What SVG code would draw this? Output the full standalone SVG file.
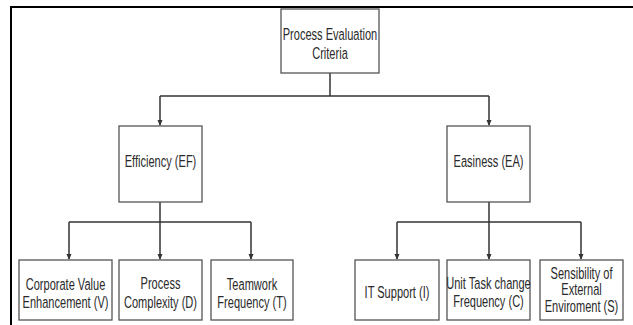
<svg xmlns="http://www.w3.org/2000/svg" width="633" height="325" viewBox="0 0 633 325">
<defs>
<marker id="arr" viewBox="0 0 6 6" refX="5" refY="3" markerWidth="6" markerHeight="6" orient="auto" markerUnits="userSpaceOnUse">
<path d="M0,0.5 L6,3 L0,5.5 Z" fill="#333"/>
</marker>
<style>
.box{fill:#fff;stroke:#555;stroke-width:1.3}
.t{font-family:"Liberation Sans",Arial,sans-serif;font-size:17px;fill:#2a2a2a;text-anchor:middle}
.s{font-size:16px}
.c{fill:none;stroke:#333;stroke-width:1.5}
.frame{fill:none;stroke:#000;stroke-width:2}
</style>
</defs>
<rect width="633" height="325" fill="#fff"/>
<path class="frame" d="M11,325 V7 H633"/>
<g id="connectors">
<path class="c" d="M330,73 V96"/>
<path class="c" d="M160,96 H489"/>
<path class="c" d="M160,96 V125" marker-end="url(#arr)"/>
<path class="c" d="M489,96 V125" marker-end="url(#arr)"/>
<path class="c" d="M160,202 V222"/>
<path class="c" d="M69,222 H251"/>
<path class="c" d="M69,222 V259" marker-end="url(#arr)"/>
<path class="c" d="M160,222 V259" marker-end="url(#arr)"/>
<path class="c" d="M251,222 V259" marker-end="url(#arr)"/>
<path class="c" d="M489,202 V222"/>
<path class="c" d="M397,222 H581"/>
<path class="c" d="M397,222 V259" marker-end="url(#arr)"/>
<path class="c" d="M489,222 V259" marker-end="url(#arr)"/>
<path class="c" d="M581,222 V259" marker-end="url(#arr)"/>
</g>
<g id="root">
<rect class="box" x="281" y="9" width="98" height="64"/>
<text class="t" transform="translate(330,0) scale(0.65,1)" x="0" y="40">Process Evaluation</text>
<text class="t" transform="translate(330,0) scale(0.65,1)" x="0" y="59">Criteria</text>
</g>
<g id="efficiency">
<rect class="box" x="119" y="126" width="83" height="76"/>
<text class="t" transform="translate(160.5,0) scale(0.65,1)" x="0" y="167">Efficiency (EF)</text>
</g>
<g id="easiness">
<rect class="box" x="447" y="126" width="83" height="76"/>
<text class="t" transform="translate(488.5,0) scale(0.65,1)" x="0" y="167">Easiness (EA)</text>
</g>
<g id="corporate-value">
<rect class="box" x="19" y="260" width="93" height="60"/>
<text class="t" transform="translate(65.5,0) scale(0.65,1)" x="0" y="290">Corporate Value</text>
<text class="t" transform="translate(65.5,0) scale(0.65,1)" x="0" y="308">Enhancement (V)</text>
</g>
<g id="process-complexity">
<rect class="box" x="119" y="260" width="83" height="60"/>
<text class="t" transform="translate(160.5,0) scale(0.65,1)" x="0" y="289">Process</text>
<text class="t" transform="translate(160.5,0) scale(0.65,1)" x="0" y="308">Complexity (D)</text>
</g>
<g id="teamwork-frequency">
<rect class="box" x="211" y="260" width="82" height="60"/>
<text class="t" transform="translate(252,0) scale(0.65,1)" x="0" y="290">Teamwork</text>
<text class="t" transform="translate(252,0) scale(0.65,1)" x="0" y="308">Frequency (T)</text>
</g>
<g id="it-support">
<rect class="box" x="355" y="260" width="84" height="60"/>
<text class="t" transform="translate(397,0) scale(0.65,1)" x="0" y="298">IT Support (I)</text>
</g>
<g id="unit-task">
<rect class="box" x="447" y="260" width="83" height="60"/>
<text class="t" transform="translate(488.5,0) scale(0.65,1)" x="0" y="289">Unit Task change</text>
<text class="t" transform="translate(488.5,0) scale(0.65,1)" x="0" y="307">Frequency (C)</text>
</g>
<g id="sensibility">
<rect class="box" x="540" y="260" width="83" height="60"/>
<text class="t s" transform="translate(581.5,0) scale(0.69,1)" x="0" y="279">Sensibility of</text>
<text class="t s" transform="translate(581.5,0) scale(0.69,1)" x="0" y="295">External</text>
<text class="t s" transform="translate(581.5,0) scale(0.69,1)" x="0" y="312">Enviroment (S)</text>
</g>
</svg>
